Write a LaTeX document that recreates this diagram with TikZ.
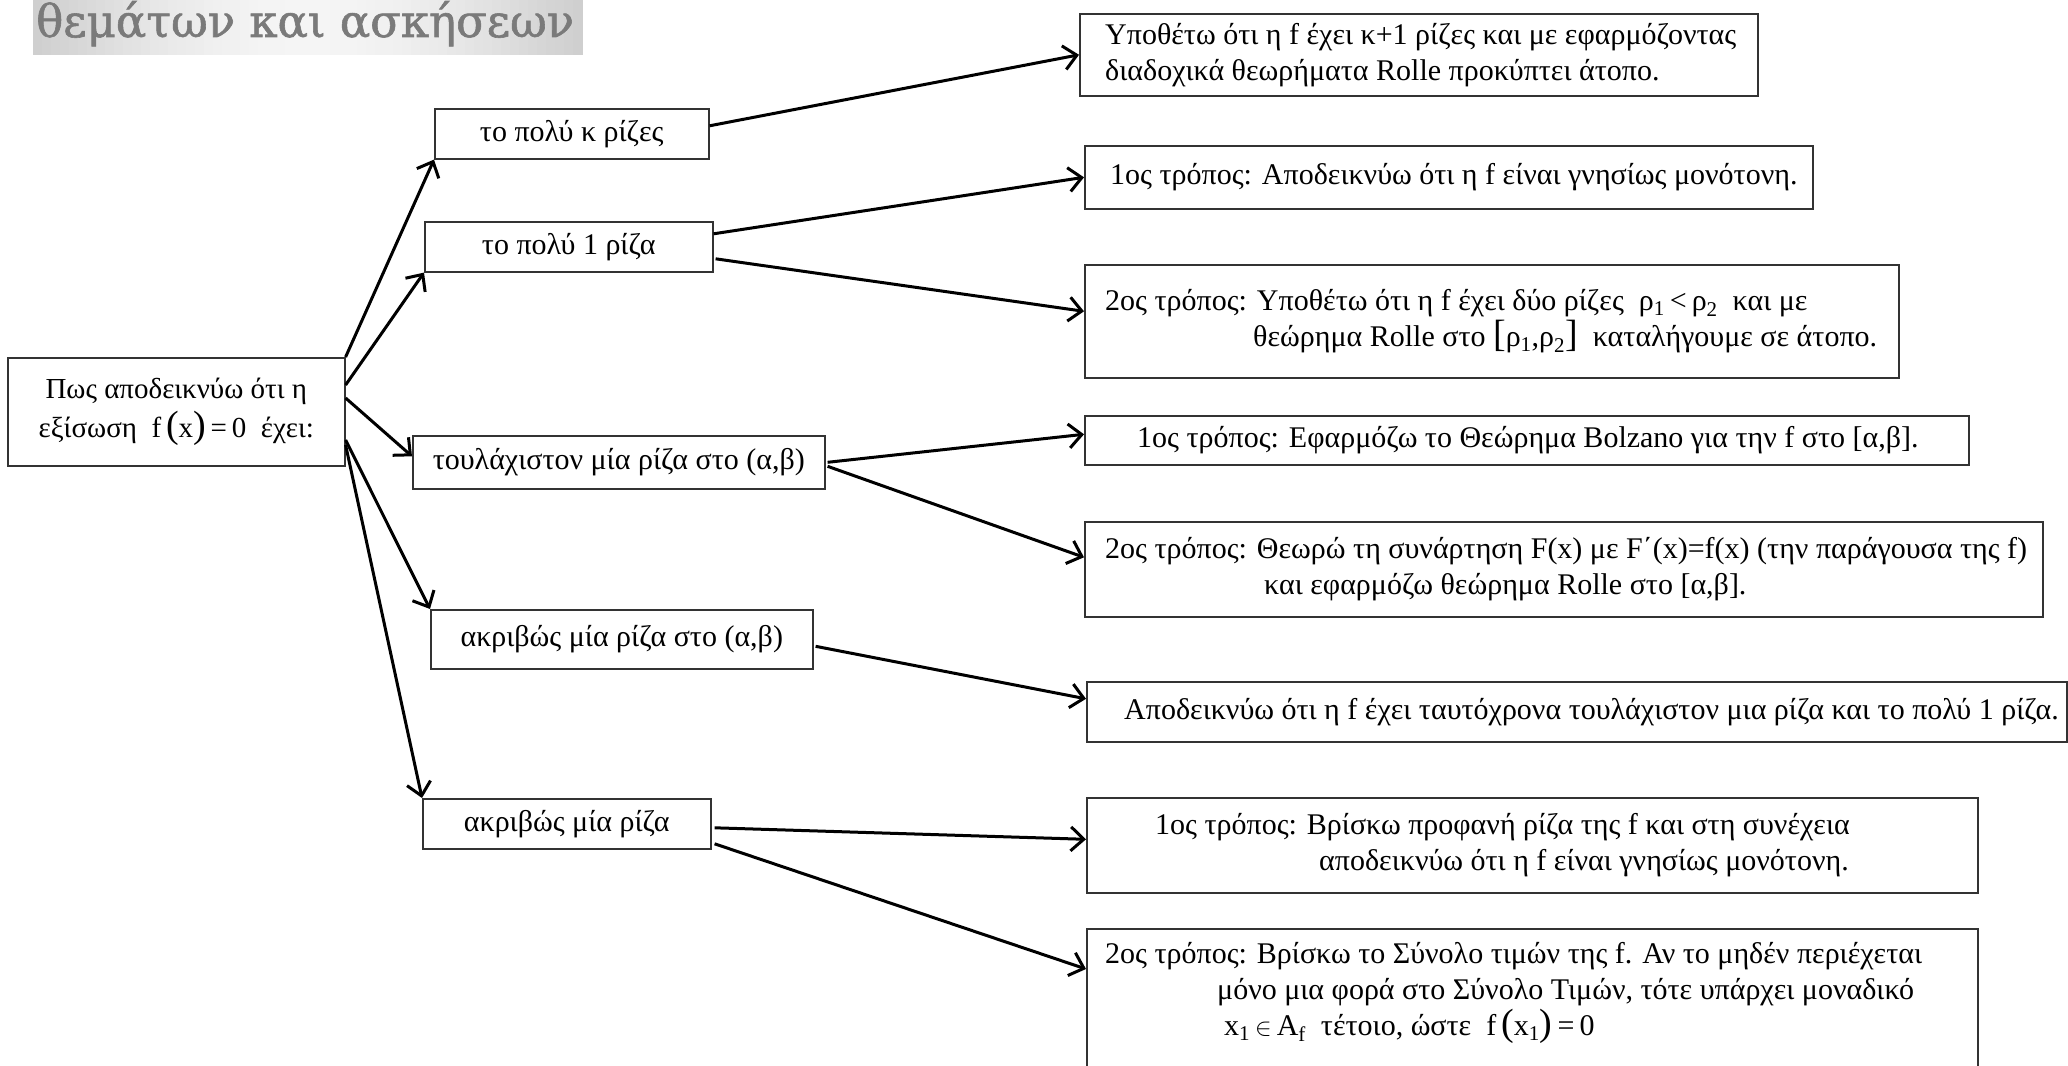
\documentclass[tikz,border=0pt]{standalone}
\usepackage{fontspec}
\setmainfont{Liberation Serif}
\newfontfamily\headfont[FakeBold=1.3]{DejaVu Serif}
\usetikzlibrary{arrows.meta,calc}
\newcommand\mainsize{\fontsize{30}{36}\selectfont}
\newcommand\bigp[1]{{\fontsize{38}{38}\selectfont #1}}
\tikzset{
  x=1pt,y=-1pt,
  box/.style={draw=black!80, line width=1.6pt, anchor=north west, inner sep=0pt, font=\mainsize, align=center},
  txt/.style={anchor=west, inner sep=0pt, align=left, font=\mainsize},
  conn/.style={line width=3pt, -{Straight Barb[length=13pt,width=24pt,line width=3pt]}},
}
\begin{document}
\begin{tikzpicture}
\useasboundingbox[fill=white] (0,0) rectangle (2068,1065);
% header banner (stepped gradient)
\foreach \i in {0,...,60}{
  \pgfmathsetmacro\p{4+15*(1-sin(180*\i/60))}
  \fill[black!\p] ({33+\i*9},0) rectangle ({33+\i*9+9.6},55);
}
\node[anchor=base west, inner sep=0pt, text=black!52, font=\headfont\fontsize{45}{45}\selectfont] (head) at (36,37) {θεμάτων και ασκήσεων};

% root
\node[box, minimum width=337, minimum height=108, font=\fontsize{29}{39}\selectfont] (root) at (7,357)
  {Πως αποδεικνύω ότι η\\εξίσωση \ f\,\bigp{(}x\bigp{)}\,=\,0 \ έχει:};

% middle column
\node[box, minimum width=274, minimum height=50] (A) at (434,108) {το πολύ κ ρίζες};
\node[box, minimum width=288, minimum height=50] (B) at (424,221) {το πολύ 1 ρίζα};
\node[box, minimum width=412, minimum height=53] (C) at (412,435) {τουλάχιστον μία ρίζα στο (α,β)};
\node[box, minimum width=382, minimum height=59] (D) at (430,609) {ακριβώς μία ρίζα στο (α,β)};
\node[box, minimum width=288, minimum height=50] (E) at (422,798) {ακριβώς μία ρίζα};

% right column boxes
\node[box, minimum width=678, minimum height=82] (R1) at (1079,13) {};
\node[box, minimum width=728, minimum height=63] (R2) at (1084,145) {};
\node[box, minimum width=814, minimum height=113] (R3) at (1084,264) {};
\node[box, minimum width=884, minimum height=49] (R4) at (1084,415) {};
\node[box, minimum width=958, minimum height=95] (R5) at (1084,521) {};
\node[box, minimum width=980, minimum height=60] (R6) at (1086,681) {};
\node[box, minimum width=891, minimum height=95] (R7) at (1086,797) {};
\node[box, minimum width=891, minimum height=150] (R8) at (1086,928) {};

% right column texts
\node[txt] (R1t) at ($(R1.west)+(26,0)$) {Υποθέτω ότι η f έχει κ+1 ρίζες και με εφαρμόζοντας\\διαδοχικά θεωρήματα Rolle προκύπτει άτοπο.};
\node[txt] (R2t) at ($(R2.west)+(26,0)$) {1ος τρόπος: Αποδεικνύω ότι η f είναι γνησίως μονότονη.};
\node[txt] (R3t) at ($(R3.west)+(21,0)$) {2ος τρόπος: Υποθέτω ότι η f έχει δύο ρίζες \ ρ\textsubscript{1}\,<\,ρ\textsubscript{2} \ και με\\\hspace*{148pt}θεώρημα Rolle στο \bigp{[}ρ\textsubscript{1},ρ\textsubscript{2}\bigp{]} \ καταλήγουμε σε άτοπο.};
\node[txt] (R4t) at ($(R4.west)+(53,0)$) {1ος τρόπος: Εφαρμόζω το Θεώρημα Bolzano για την f στο [α,β].};
\node[txt] (R5t) at ($(R5.west)+(21,0)$) {2ος τρόπος: Θεωρώ τη συνάρτηση F(x) με F΄(x)=f(x) (την παράγουσα της f)\\\hspace*{159pt}και εφαρμόζω θεώρημα Rolle στο [α,β].};
\node[txt] (R6t) at ($(R6.west)+(38,0)$) {Αποδεικνύω ότι η f έχει ταυτόχρονα τουλάχιστον μια ρίζα και το πολύ 1 ρίζα.};
\node[txt] (R7t) at ($(R7.west)+(69,0)$) {1ος τρόπος: Βρίσκω προφανή ρίζα της f και στη συνέχεια\\\hspace*{164pt}αποδεικνύω ότι η f είναι γνησίως μονότονη.};
\node[txt, anchor=north west] (R8t) at ($(R8.north west)+(19,14)$) {2ος τρόπος: Βρίσκω το Σύνολο τιμών της f. Αν το μηδέν περιέχεται\\\hspace*{112pt}μόνο μια φορά στο Σύνολο Τιμών, τότε υπάρχει μοναδικό\\\hspace*{119pt}x\textsubscript{1}\,$\in$\,A\textsubscript{f} \ τέτοιο, ώστε \ f\,\bigp{(}x\textsubscript{1}\bigp{)}\,=\,0};

% connectors from root
\draw[conn] (root.north east) -- (A.south west);
\draw[conn] ($(root.north east)+(0,28)$) -- (B.south west);
\draw[conn] ($(root.north east)+(0,41)$) -- ($(C.west)+(0,-6)$);
\draw[conn] ($(root.north east)+(0,83)$) -- (D.north west);
\draw[conn] ($(root.north east)+(0,88)$) -- (E.north west);

% connectors to right column
\draw[conn] ($(A.east)+(0,-8)$) -- (R1.west);
\draw[conn] ($(B.east)+(0,-13)$) -- (R2.west);
\draw[conn] ($(B.east)+(2,12)$) -- ($(R3.west)+(0,-10)$);
\draw[conn] ($(C.east)+(2,0)$) -- ($(R4.west)+(0,-6)$);
\draw[conn] ($(C.east)+(2,4)$) -- ($(R5.west)+(0,-12)$);
\draw[conn] ($(D.east)+(2,7)$) -- ($(R6.west)+(0,-13)$);
\draw[conn] ($(E.east)+(3,4)$) -- ($(R7.west)+(0,-6)$);
\draw[conn] ($(E.east)+(3,20)$) -- ($(R8.north west)+(0,41)$);
\end{tikzpicture}
\end{document}
